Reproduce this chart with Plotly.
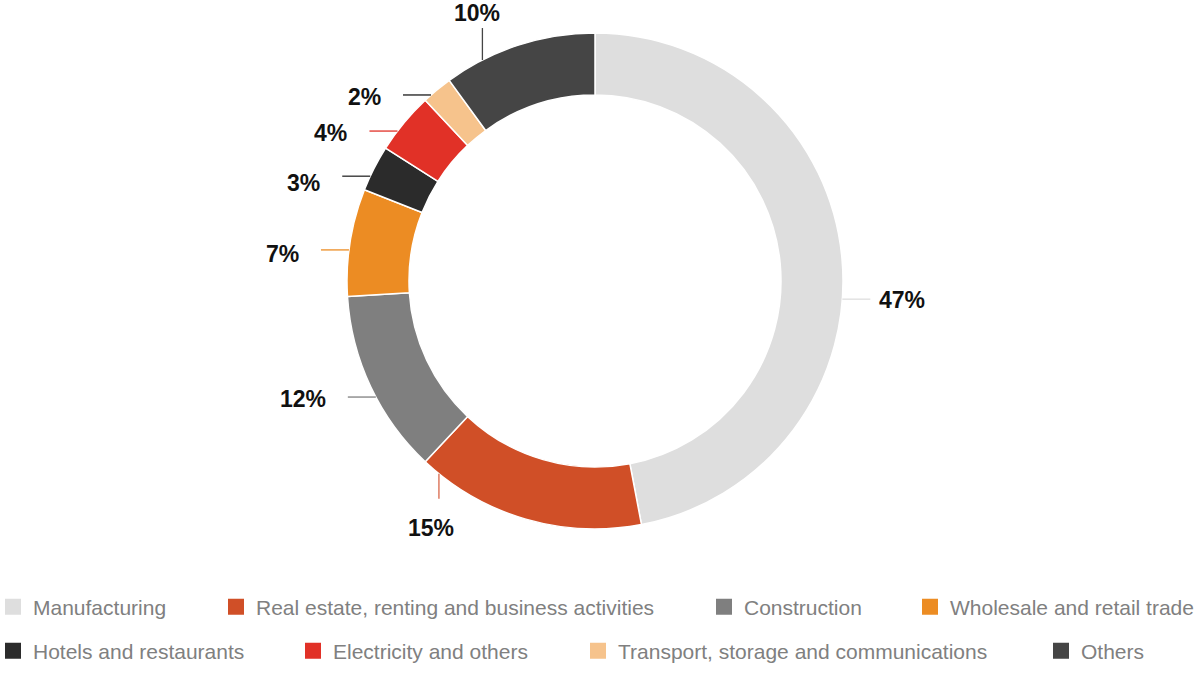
import math
import plotly.graph_objects as go

# ---- data ----
categories = [
    "Manufacturing",
    "Real estate, renting and business activities",
    "Construction",
    "Wholesale and retail trade",
    "Hotels and restaurants",
    "Electricity and others",
    "Transport, storage and communications",
    "Others",
]
values = [47, 15, 12, 7, 3, 4, 2, 10]
pct_labels = [f"{v}%" for v in values]

# ---- style ----
colors = ["#dedede", "#d04f27", "#7f7f7f", "#ec8c23",
          "#2b2b2b", "#e13127", "#f6c38c", "#454545"]
connector_colors = ["#dedede", "#d9674a", "#7f7f7f", "#ec8c23",
                    "#2b2b2b", "#e13127", "#1a1a1a", "#454545"]
# label placement (layout only): angle (deg, clockwise from top) where the
# connector leaves the ring, direction it points, and small label nudge (px)
connector_angle = [94.2, 219, 242.1, 277.2, 295, 307.2, 318.6, 333]
connector_dir = ["right", "down", "left", "left", "left", "left", "left", "up"]
label_dy = [1, 0, 2, 4, 7, 2, 2, 0]
# legend layout: x of each swatch and row centre y (pixels)
legend_swatch_x = [5, 228, 716, 922, 5, 305, 590, 1053]
legend_row_y = [607, 607, 607, 607, 651, 651, 651, 651]

W, H = 1200, 675
CX, CY, R = 595, 281, 248
HOLE = 0.75
FONT = "Liberation Sans, Arial, Helvetica, sans-serif"


def px(x):
    return x / W


def py(y):
    return 1 - y / H


fig = go.Figure()
fig.add_trace(go.Pie(
    labels=categories, values=values, sort=False, direction="clockwise",
    rotation=0, hole=HOLE, textinfo="none", hoverinfo="label+percent",
    marker=dict(colors=colors, line=dict(color="white", width=1.5)),
    showlegend=False,
    domain=dict(x=[px(CX - R), px(CX + R)], y=[py(CY + R), py(CY - R)]),
))

shapes = []
annotations = []
LINE = 28
for lab, ang, d, col, dy in zip(pct_labels, connector_angle, connector_dir,
                                connector_colors, label_dy):
    a = math.radians(ang)
    x0 = CX + R * math.sin(a)
    y0 = CY - R * math.cos(a)
    if d == "left":
        x1, y1 = x0 - LINE, y0
        ax, ay, xa = x1 - 21, y1 + dy, "right"
    elif d == "right":
        x1, y1 = x0 + LINE, y0
        ax, ay, xa = x1 + 8, y1 + dy, "left"
    elif d == "down":
        x1, y1 = x0, y0 + 25
        ax, ay, xa = x1 - 8, y1 + 29, "center"
    else:
        x1, y1 = x0, y0 - 32
        ax, ay, xa = x1 - 5, y1 - 15, "center"
    shapes.append(dict(type="line", xref="paper", yref="paper",
                       x0=px(x0), y0=py(y0), x1=px(x1), y1=py(y1),
                       line=dict(color=col, width=1.3)))
    annotations.append(dict(text=f"<b>{lab}</b>", xref="paper", yref="paper",
                            x=px(ax), y=py(ay), xanchor=xa, yanchor="middle",
                            showarrow=False, borderpad=0,
                            font=dict(size=23, color="#111111", family=FONT)))

# legend entries: one small legend per category, laid out in two rows
legend_layout = {}
for i, (cat, col) in enumerate(zip(categories, colors)):
    lname = "legend" if i == 0 else f"legend{i + 1}"
    fig.add_trace(go.Scatter(
        x=[None], y=[None], mode="markers", name=cat,
        marker=dict(symbol="square", size=16, color=col),
        legend=lname, showlegend=True, hoverinfo="skip",
    ))
    legend_layout[lname] = dict(
        orientation="h", x=px(legend_swatch_x[i] - 12), xanchor="left",
        y=py(legend_row_y[i]), yanchor="middle",
        font=dict(size=21, color="#808080", family=FONT),
        bgcolor="rgba(0,0,0,0)", borderwidth=0,
    )

fig.update_layout(
    width=W, height=H,
    margin=dict(l=0, r=0, t=0, b=0, autoexpand=False),
    paper_bgcolor="white", plot_bgcolor="white",
    xaxis=dict(visible=False), yaxis=dict(visible=False),
    shapes=shapes, annotations=annotations,
    showlegend=True,
    **legend_layout,
)

# remove the default page margin so the 1200x675 figure fills the window
fig.write_html("out.html", config={"displayModeBar": False},
               post_script="document.body.style.margin='0';")
